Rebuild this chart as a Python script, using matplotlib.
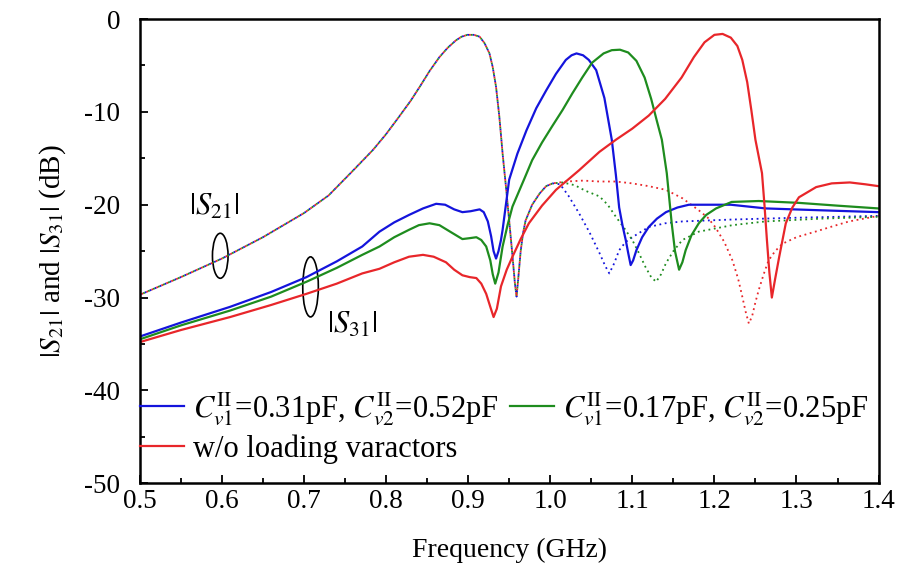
import matplotlib.pyplot as plt
from matplotlib.patches import Ellipse
from matplotlib.ticker import MultipleLocator

plt.rcParams['font.family'] = ['Liberation Serif', 'DejaVu Serif']
plt.rcParams['mathtext.fontset'] = 'stix'
plt.rcParams['axes.unicode_minus'] = False

# |S21| (dotted): shared part up to ~1.0 GHz, then one tail per case
s21_common_f = [0.50, 0.55, 0.60, 0.65, 0.70, 0.73, 0.76, 0.784, 0.80, 0.816, 0.83,
                0.841, 0.853, 0.865, 0.875, 0.885, 0.892, 0.899, 0.907, 0.914, 0.920,
                0.926, 0.930, 0.934, 0.938, 0.942, 0.946, 0.950, 0.954, 0.957, 0.959,
                0.961, 0.964, 0.967, 0.970, 0.978, 0.987, 0.995, 1.003]
s21_common_db = [-29.7, -27.8, -25.8, -23.5, -20.9, -19.0, -16.3, -14.1, -12.4, -10.5, -8.8,
                 -7.3, -5.6, -4.1, -3.1, -2.3, -1.9, -1.7, -1.7, -1.9, -2.6,
                 -3.7, -5.2, -7.3, -10.5, -14.5, -18.0, -21.7, -25.5, -28.5, -29.9,
                 -28.0, -25.0, -23.0, -21.7, -20.0, -18.8, -18.0, -17.7]

s21_blue_f = [1.012, 1.022, 1.035, 1.048, 1.06, 1.067, 1.072, 1.078, 1.084, 1.092, 1.10,
              1.12, 1.14, 1.161, 1.22, 1.30, 1.40]
s21_blue_db = [-17.8, -19.0, -20.9, -23.0, -25.2, -26.6, -27.4, -26.3, -24.9, -24.0, -23.5,
               -22.4, -22.0, -21.8, -21.6, -21.4, -21.2]

s21_green_f = [1.015, 1.03, 1.043, 1.06, 1.07, 1.08, 1.09, 1.10, 1.108, 1.116, 1.123, 1.129,
               1.135, 1.141, 1.15, 1.161, 1.181, 1.222, 1.262, 1.33, 1.40]
s21_green_db = [-17.6, -17.9, -18.5, -19.1, -20.0, -21.3, -22.5, -23.8, -25.2, -26.7, -27.8, -28.3,
                -27.5, -26.3, -25.0, -23.8, -22.9, -22.2, -21.8, -21.5, -21.3]

s21_red_f = [1.02, 1.04, 1.06, 1.08, 1.10, 1.12, 1.141, 1.161, 1.181, 1.192, 1.201, 1.212,
             1.222, 1.229, 1.234, 1.238, 1.242, 1.246, 1.250, 1.254, 1.260, 1.266, 1.274,
             1.283, 1.30, 1.323, 1.345, 1.364, 1.40]
s21_red_db = [-17.5, -17.4, -17.5, -17.5, -17.7, -18.0, -18.4, -19.3, -20.6, -21.4, -22.4, -24.0,
              -26.0, -28.0, -29.9, -31.5, -32.8, -32.0, -30.5, -29.2, -27.5, -26.0, -25.0,
              -24.2, -23.5, -22.9, -22.3, -21.8, -21.2]

# |S31| (solid)
s31_blue_f = [0.50, 0.55, 0.61, 0.66, 0.703, 0.74, 0.771, 0.792, 0.81, 0.828, 0.845, 0.861,
              0.872, 0.883, 0.893, 0.903, 0.914, 0.919, 0.924, 0.928, 0.931, 0.934, 0.937,
              0.940, 0.942, 0.946, 0.950, 0.960, 0.971, 0.983, 0.995, 1.007, 1.019, 1.026,
              1.032, 1.040, 1.047, 1.056, 1.066, 1.075, 1.080, 1.084, 1.088, 1.092, 1.095,
              1.098, 1.101, 1.105, 1.112, 1.12, 1.13, 1.141, 1.155, 1.169, 1.22, 1.263,
              1.33, 1.40]
s31_blue_db = [-34.2, -32.7, -31.0, -29.4, -27.8, -26.1, -24.5, -22.9, -21.9, -21.1, -20.4, -19.9,
               -20.0, -20.5, -20.8, -20.7, -20.5, -20.8, -21.8, -23.4, -25.0, -25.8, -25.0,
               -23.8, -22.7, -20.0, -17.3, -14.5, -12.0, -9.6, -7.7, -5.9, -4.4, -3.9,
               -3.7, -3.9, -4.4, -5.5, -8.5, -13.0, -16.8, -20.3, -22.2, -23.8, -25.2,
               -26.5, -26.0, -24.9, -23.5, -22.4, -21.5, -20.8, -20.3, -20.0, -20.0, -20.4,
               -20.6, -20.8]

s31_green_f = [0.50, 0.55, 0.61, 0.66, 0.703, 0.74, 0.771, 0.792, 0.81, 0.828, 0.84, 0.853,
               0.865, 0.878, 0.893, 0.902, 0.910, 0.916, 0.922, 0.927, 0.930, 0.933, 0.937,
               0.942, 0.948, 0.954, 0.968, 0.978, 0.990, 1.002, 1.015, 1.027, 1.039, 1.051,
               1.065, 1.075, 1.085, 1.095, 1.105, 1.115, 1.123, 1.130, 1.136, 1.142, 1.148,
               1.152, 1.157, 1.161, 1.165, 1.172, 1.181, 1.19, 1.202, 1.221, 1.254, 1.303,
               1.35, 1.40]
s31_green_db = [-34.5, -33.0, -31.4, -29.9, -28.3, -26.8, -25.4, -24.5, -23.5, -22.7, -22.2, -22.0,
                -22.2, -22.9, -23.7, -23.6, -23.5, -23.8, -24.5, -26.0, -27.5, -28.5, -27.3,
                -24.5, -22.2, -20.2, -17.3, -15.2, -13.3, -11.6, -9.8, -8.0, -6.3, -4.7,
                -3.7, -3.35, -3.3, -3.6, -4.5, -6.3, -8.6, -11.0, -13.0, -16.6, -22.0,
                -25.0, -27.0, -26.2, -24.9, -23.3, -22.0, -21.1, -20.4, -19.7, -19.6, -19.8,
                -20.1, -20.4]

s31_red_f = [0.50, 0.55, 0.61, 0.66, 0.703, 0.74, 0.771, 0.792, 0.81, 0.828, 0.845, 0.858,
             0.873, 0.883, 0.893, 0.902, 0.910, 0.916, 0.922, 0.927, 0.931, 0.935, 0.940,
             0.947, 0.954, 0.964, 0.974, 0.990, 1.007, 1.035, 1.06, 1.08, 1.10, 1.12, 1.14,
             1.16, 1.175, 1.188, 1.20, 1.21, 1.22, 1.228, 1.234, 1.240, 1.245, 1.250, 1.258,
             1.261, 1.264, 1.267, 1.270, 1.274, 1.279, 1.287, 1.295, 1.303, 1.324, 1.343,
             1.365, 1.384, 1.40]
s31_red_db = [-34.8, -33.5, -32.1, -30.8, -29.6, -28.5, -27.4, -26.9, -26.2, -25.6, -25.4, -25.6,
              -26.2, -27.0, -27.6, -27.8, -27.9, -28.5, -29.6, -31.0, -32.1, -31.2, -28.8,
              -27.0, -25.6, -23.7, -22.0, -20.1, -18.4, -16.3, -14.3, -13.0, -11.8, -10.4, -8.6,
              -6.3, -4.1, -2.5, -1.7, -1.6, -2.0, -2.9, -4.4, -6.8, -9.8, -13.0, -16.6,
              -20.0, -23.8, -27.3, -30.0, -28.0, -25.6, -22.0, -20.3, -19.2, -18.1, -17.7,
              -17.6, -17.8, -18.0]

labels = [r'$C_{v1}^{\mathrm{II}}$=0.31pF, $C_{v2}^{\mathrm{II}}$=0.52pF',
          r'$C_{v1}^{\mathrm{II}}$=0.17pF, $C_{v2}^{\mathrm{II}}$=0.25pF',
          'w/o loading varactors']

blue = '#1414dc'
green = '#1e8c1e'
red = '#e8262a'

fig = plt.figure(figsize=(9.02, 5.78), dpi=100)
ax = fig.add_axes([0.155, 0.164, 0.819, 0.803])

# dotted S21 traces, dots offset so the shared part shows all three colours
s21_sets = [(s21_blue_f, s21_blue_db, blue, 0),
            (s21_green_f, s21_green_db, green, 1),
            (s21_red_f, s21_red_db, red, 2)]
for f, db, c, off in s21_sets:
    ax.plot(s21_common_f + f, s21_common_db + db, color=c, lw=1.3,
            linestyle=(off, (1, 2)))

hb, = ax.plot(s31_blue_f, s31_blue_db, color=blue, lw=1.6)
hg, = ax.plot(s31_green_f, s31_green_db, color=green, lw=1.6)
hr, = ax.plot(s31_red_f, s31_red_db, color=red, lw=1.6)

ax.set_xlim(0.5, 1.4)
ax.set_ylim(-50, 0)
ax.xaxis.set_major_locator(MultipleLocator(0.1))
ax.xaxis.set_minor_locator(MultipleLocator(0.05))
ax.yaxis.set_major_locator(MultipleLocator(10))
ax.yaxis.set_minor_locator(MultipleLocator(5))
ax.set_xticklabels([f'{v:.1f}' for v in ax.get_xticks()])
ax.tick_params(which='both', direction='in', top=False, right=False, width=1.3)
ax.tick_params(which='major', length=6, labelsize=19.5)
ax.tick_params(axis='x', which='major', pad=4)
ax.tick_params(axis='y', which='major', pad=14)
ax.tick_params(which='minor', length=3.5)
for sp in ax.spines.values():
    sp.set_linewidth(1.8)

ax.set_xlabel('Frequency (GHz)', fontsize=20, labelpad=17)
ax.set_ylabel(r'$|S_{21}|$ and $|S_{31}|$ (dB)', fontsize=21, labelpad=12)

# labels and rings marking the two groups of curves
ax.text(0.591, -20.3, r'$|S_{21}|$', fontsize=22, ha='center', va='center')
ax.add_patch(Ellipse((0.598, -25.5), 0.019, 4.85, fill=False, lw=1.2, color='black'))
ax.text(0.758, -33.0, r'$|S_{31}|$', fontsize=22, ha='center', va='center')
ax.add_patch(Ellipse((0.708, -28.85), 0.019, 6.47, fill=False, lw=1.2, color='black'))

ax.legend([hb, hr, hg], [labels[0], labels[2], labels[1]], ncol=2, frameon=False,
          loc='upper left', bbox_to_anchor=(-0.008, 0.214), fontsize=22,
          handlelength=1.45, columnspacing=0.35, handletextpad=0.3,
          borderaxespad=0.0, borderpad=0.2, labelspacing=0.25)

fig.savefig('out.png', dpi=100)
